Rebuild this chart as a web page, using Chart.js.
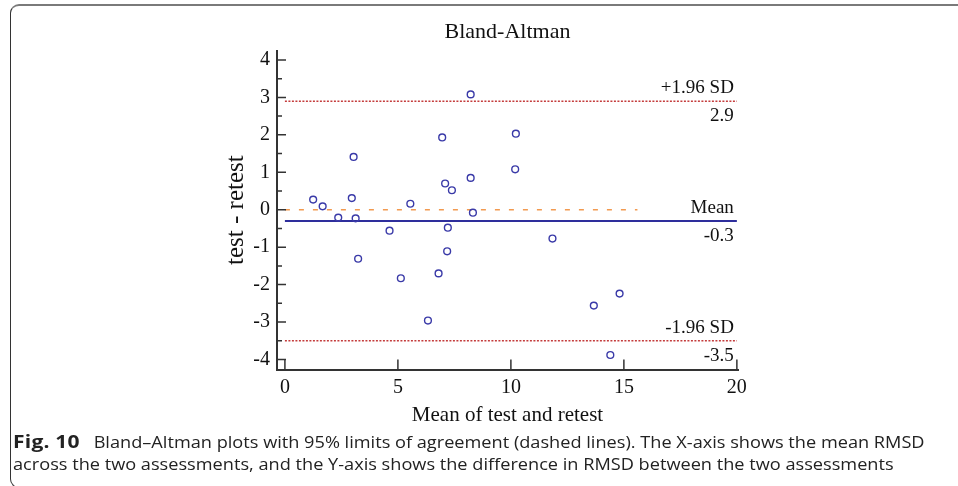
<!DOCTYPE html>
<html>
<head>
<meta charset="utf-8">
<script src="https://cdn.jsdelivr.net/npm/chart.js@4/dist/chart.umd.min.js"></script>
<style>
  html, body { margin: 0; padding: 0; background: #fff; }
  body { width: 958px; height: 486px; position: relative; overflow: hidden; }
  .frame {
    position: absolute; left: 10px; top: 4px; width: 990px; height: 484px;
    border-top: 2px solid #7a7a7a; border-left: 1px solid #333; border-bottom: 1px solid #333;
    border-radius: 9px; box-sizing: border-box;
  }
  #chart { position: absolute; left: 0; top: 0; }
  .caption {
    position: absolute; left: 13px; top: 430px; width: 830px;
    font-family: "Open Sans", sans-serif; font-size: 16px; line-height: 22px; color: #222;
    white-space: nowrap; transform: scaleX(1.135); transform-origin: 0 0;
  }
  .caption b { font-weight: 700; font-size: 18.5px; letter-spacing: 0.2px; margin-right: 8px; }
</style>
</head>
<body>
<div class="frame"></div>
<canvas id="chart" width="958" height="430"></canvas>
<div class="caption"><b>Fig. 10</b> Bland–Altman plots with 95% limits of agreement (dashed lines). The X-axis shows the mean RMSD<br>across the two assessments, and the Y-axis shows the difference in RMSD between the two assessments</div>
<script>
// mean of test and retest (x) and difference test - retest (y)
const meanVals = [1.25, 1.67, 2.36, 2.96, 3.04, 3.13, 3.24, 4.63, 5.13, 5.55, 6.33, 6.80, 6.96,
  7.09, 7.18, 7.21, 7.39, 8.22, 8.22, 8.32, 10.19, 10.22, 11.84, 13.67, 14.40, 14.81];
const diffVals = [0.27, 0.09, -0.21, 0.31, 1.41, -0.23, -1.31, -0.56, -1.83, 0.16, -2.96, -1.70, 1.93,
  0.70, -1.11, -0.48, 0.52, 3.08, 0.85, -0.08, 1.08, 2.03, -0.77, -2.56, -3.88, -2.24];

const meanDiff = -0.3;
const upperLoA = 2.9;
const lowerLoA = -3.5;
const lineSpan = [0, 20];
const zeroSpan = [0, 15.6];

const refLabels = [
  { value: upperLoA, above: '+1.96 SD', below: '2.9' },
  { value: meanDiff, above: 'Mean', below: '-0.3' },
  { value: lowerLoA, above: '-1.96 SD', below: '-3.5' }
];

const serif = '"Liberation Serif", "Times New Roman", serif';

function hline(y, span) {
  return span.map(x => ({ x: x, y: y }));
}

const points = meanVals.map((m, i) => ({ x: m, y: diffVals[i] }));

// inward tick marks like the original plot
const tickMarks = {
  id: 'tickMarks',
  afterDraw(chart) {
    const ctx = chart.ctx;
    const xs = chart.scales.x, ys = chart.scales.y;
    const left = chart.chartArea.left, bottom = chart.chartArea.bottom;
    ctx.save();
    ctx.strokeStyle = '#333';
    ctx.lineWidth = 1.5;
    ctx.beginPath();
    ys.ticks.forEach(t => {
      let py = ys.getPixelForValue(t.value);
      ctx.moveTo(left, py); ctx.lineTo(left + 9, py);
      let half = t.value + 0.5;
      if (half < ys.max) {
        py = ys.getPixelForValue(half);
        ctx.moveTo(left, py); ctx.lineTo(left + 5, py);
      }
    });
    xs.ticks.forEach(t => {
      const px = xs.getPixelForValue(t.value);
      ctx.moveTo(px, bottom); ctx.lineTo(px, bottom - 10);
    });
    ctx.stroke();
    ctx.restore();
  }
};

const refText = {
  id: 'refText',
  afterDatasetsDraw(chart) {
    const ctx = chart.ctx;
    const xs = chart.scales.x, ys = chart.scales.y;
    const px = xs.getPixelForValue(lineSpan[1]) - 3;
    ctx.save();
    ctx.fillStyle = '#111';
    ctx.font = '19px ' + serif;
    ctx.textAlign = 'right';
    ctx.textBaseline = 'alphabetic';
    refLabels.forEach(r => {
      const py = ys.getPixelForValue(r.value);
      ctx.fillText(r.above, px, py - 8);
      ctx.fillText(r.below, px, py + 20);
    });
    ctx.restore();
  }
};

new Chart(document.getElementById('chart'), {
  type: 'scatter',
  data: {
    datasets: [
      {
        data: points,
        pointStyle: 'circle',
        pointRadius: 3.4,
        borderColor: '#3a3aa8',
        backgroundColor: 'rgba(0,0,0,0)',
        borderWidth: 1.4,
        order: 0
      },
      {
        data: hline(0, zeroSpan), showLine: true, pointRadius: 0,
        borderColor: '#f29a50', borderWidth: 1.6, borderDash: [5, 9], order: 3
      },
      {
        data: hline(meanDiff, lineSpan), showLine: true, pointRadius: 0,
        borderColor: '#2e2e9c', borderWidth: 2, order: 2
      },
      {
        data: hline(upperLoA, lineSpan), showLine: true, pointRadius: 0,
        borderColor: '#c43c3c', borderWidth: 1.5, borderDash: [2, 1.5], order: 2
      },
      {
        data: hline(lowerLoA, lineSpan), showLine: true, pointRadius: 0,
        borderColor: '#c43c3c', borderWidth: 1.5, borderDash: [2, 1.5], order: 2
      }
    ]
  },
  options: {
    responsive: false,
    animation: false,
    layout: { padding: { left: 0, right: 220, top: 0, bottom: 0 } },
    plugins: {
      legend: { display: false },
      tooltip: { enabled: false },
      title: {
        display: true,
        text: 'Bland-Altman',
        fullSize: false,
        color: '#111',
        font: { family: serif, size: 22, weight: 'normal' },
        padding: { top: 18.7, bottom: 5.5 }
      }
    },
    scales: {
      x: {
        type: 'linear',
        min: -0.35,
        max: 20.05,
        afterFit: s => { s.height = 60.4; },
        grid: { display: false, drawTicks: false },
        border: { display: true, color: '#333', width: 2 },
        ticks: {
          stepSize: 5, includeBounds: false, padding: 6,
          color: '#111', font: { family: serif, size: 20 }
        },
        title: {
          display: true, text: 'Mean of test and retest', color: '#111',
          font: { family: serif, size: 21 }, padding: { top: 0, bottom: 1.5 }
        }
      },
      y: {
        type: 'linear',
        min: -4.27,
        max: 4.25,
        afterFit: s => { s.width = 277; },
        grid: { display: false, drawTicks: false },
        border: { display: true, color: '#333', width: 2 },
        ticks: {
          stepSize: 1, includeBounds: false, padding: 7,
          color: '#111', font: { family: serif, size: 20 }
        },
        title: {
          display: true, text: 'test - retest', color: '#111',
          font: { family: serif, size: 25 }, padding: { top: 221.6, bottom: 0 }
        }
      }
    }
  },
  plugins: [tickMarks, refText]
});
</script>
</body>
</html>
